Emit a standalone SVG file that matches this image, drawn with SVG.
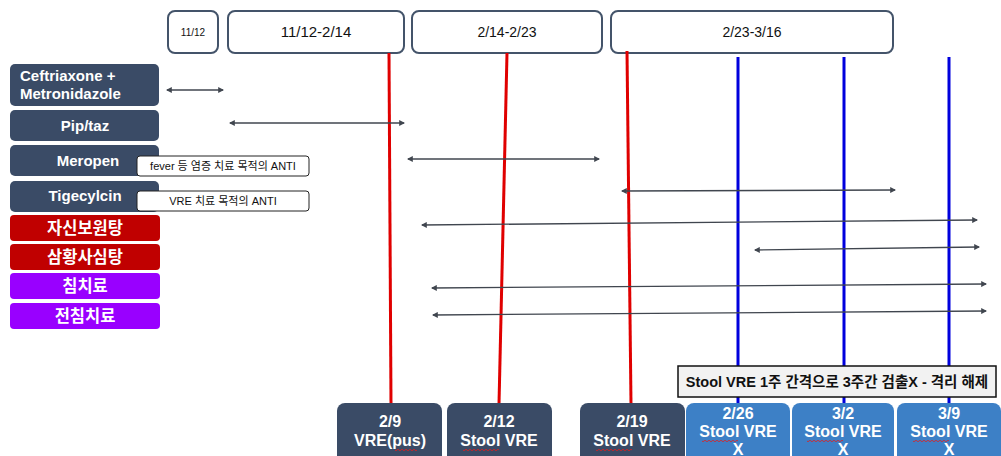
<svg xmlns="http://www.w3.org/2000/svg" width="1001" height="456" viewBox="0 0 1001 456">
<style>
.hdr{fill:#fff;stroke:#44546a;stroke-width:2}
.ht{font-family:"Liberation Sans",Arial,sans-serif;fill:#111;text-anchor:middle}
.drug{fill:#3a4b66}
.red{fill:#c00000}
.pur{fill:#9900ff}
.lt{font-family:"Liberation Sans","Noto Sans CJK KR",sans-serif;font-weight:bold;fill:#fff;font-size:15px;text-anchor:middle}
.kt{font-family:"Noto Sans CJK KR","Liberation Sans",sans-serif;font-weight:bold;fill:#fff;font-size:16.5px;text-anchor:middle}
.note{fill:#fff;stroke:#222;stroke-width:1}
.nt{font-family:"Liberation Sans","Noto Sans CJK KR",sans-serif;font-size:11px;fill:#111;text-anchor:middle}
.arr{stroke:#40464f;stroke-width:1.3;fill:none;marker-start:url(#ah);marker-end:url(#ah)}
.rl{stroke:#e00000;stroke-width:3;fill:none}
.bl{stroke:#0000dd;stroke-width:3;fill:none}
.ev{fill:#3a4b66}
.evb{fill:#3d80c6}
.et{font-family:"Liberation Sans",Arial,sans-serif;font-weight:bold;fill:#fff;font-size:16px;text-anchor:middle}
.sq{stroke:#e02020;stroke-width:0.8;fill:none}
</style>
<defs>
<marker id="ah" viewBox="0 0 10 10" refX="8" refY="5" markerWidth="6" markerHeight="6" orient="auto-start-reverse" markerUnits="userSpaceOnUse">
<path d="M0,0 L10,5 L0,10 z" fill="#40464f"/>
</marker>
</defs>

<g id="header-1112">
<rect class="hdr" x="168" y="11" width="50" height="42" rx="7"/>
<text class="ht" x="193" y="36" font-size="10">11/12</text>
</g>
<g id="header-1112-214">
<rect class="hdr" x="228" y="11" width="176" height="42" rx="7"/>
<text class="ht" x="316" y="37" font-size="15">11/12-2/14</text>
</g>
<g id="header-214-223">
<rect class="hdr" x="412" y="11" width="190" height="42" rx="7"/>
<text class="ht" x="507" y="37" font-size="14">2/14-2/23</text>
</g>
<g id="header-223-316">
<rect class="hdr" x="611" y="11" width="282" height="42" rx="7"/>
<text class="ht" x="752" y="37" font-size="14">2/23-3/16</text>
</g>

<g id="timelines">
<line class="rl" x1="389" y1="53" x2="391" y2="404"/>
<line class="rl" x1="507" y1="53" x2="499" y2="404"/>
<line class="rl" x1="627" y1="51" x2="631" y2="404"/>
<line class="bl" x1="738" y1="57" x2="738" y2="404"/>
<line class="bl" x1="844" y1="57" x2="844" y2="404"/>
<line class="bl" x1="949" y1="57" x2="949" y2="404"/>
</g>

<g id="drug-ceftriaxone">
<rect class="drug" x="10" y="64" width="149" height="42" rx="5"/>
<text class="lt" x="20" y="81" style="text-anchor:start">Ceftriaxone +</text>
<text class="lt" x="20" y="99" style="text-anchor:start">Metronidazole</text>
</g>
<g id="drug-piptaz">
<rect class="drug" x="10" y="110" width="149" height="31" rx="5"/>
<text class="lt" x="85" y="131">Pip/taz</text>
</g>
<g id="drug-meropen">
<rect class="drug" x="10" y="145" width="149" height="31" rx="5"/>
<text class="lt" x="88" y="166">Meropen</text>
</g>
<g id="drug-tigecylcin">
<rect class="drug" x="10" y="181" width="149" height="31" rx="5"/>
<text class="lt" x="85" y="201">Tigecylcin</text>
</g>
<g id="herb-jasin">
<rect class="red" x="10" y="215" width="150" height="26" rx="4"/>
<text class="kt" x="85" y="234">자신보원탕</text>
</g>
<g id="herb-samhwang">
<rect class="red" x="10" y="244" width="150" height="26" rx="4"/>
<text class="kt" x="85" y="263">삼황사심탕</text>
</g>
<g id="acu-chim">
<rect class="pur" x="10" y="273" width="150" height="26" rx="4"/>
<text class="kt" x="85" y="292">침치료</text>
</g>
<g id="acu-jeonchim">
<rect class="pur" x="10" y="303" width="150" height="26" rx="4"/>
<text class="kt" x="85" y="322">전침치료</text>
</g>

<g id="note-fever">
<rect class="note" x="137" y="156" width="172" height="20" rx="3"/>
<text class="nt" x="223" y="170">fever 등 염증 치료 목적의 ANTI</text>
</g>
<g id="note-vre">
<rect class="note" x="137" y="191" width="172" height="20" rx="3"/>
<text class="nt" x="223" y="205">VRE 치료 목적의 ANTI</text>
</g>

<g id="connectors">
<line class="arr" x1="167" y1="90" x2="223" y2="90"/>
<line class="arr" x1="230" y1="123" x2="404" y2="123"/>
<line class="arr" x1="408" y1="159" x2="599" y2="159"/>
<line class="arr" x1="622" y1="191" x2="895" y2="190"/>
<line class="arr" x1="422" y1="225" x2="977" y2="220"/>
<line class="arr" x1="755" y1="250" x2="979" y2="247"/>
<line class="arr" x1="432" y1="288" x2="986" y2="284"/>
<line class="arr" x1="433" y1="315" x2="986" y2="311"/>
</g>

<g id="banner">
<rect x="678" y="366" width="318" height="31" fill="#f2f2f2" stroke="#111" stroke-width="1.5"/>
<text x="837" y="387" font-family="Liberation Sans,'Noto Sans CJK KR',sans-serif" font-weight="bold" font-size="14.5" fill="#111" text-anchor="middle">Stool VRE 1주 간격으로 3주간 검출X - 격리 해제</text>
</g>

<g id="event-29">
<rect class="ev" x="337" y="403" width="105" height="62" rx="8"/>
<text class="et" x="390" y="427">2/9</text>
<text class="et" x="390" y="446">VRE(pus)</text>
<path class="sq" d="M395,450 q1,1.5 2,0 t2,0 t2,0 t2,0 t2,0 t2,0 t2,0 t2,0 t2,0 t2,0 t2,0"/>
</g>
<g id="event-212">
<rect class="ev" x="447" y="403" width="105" height="62" rx="8"/>
<text class="et" x="499" y="427">2/12</text>
<text class="et" x="499" y="446">Stool VRE</text>
<path class="sq" d="M463,450 q1,1.5 2,0 t2,0 t2,0 t2,0 t2,0 t2,0 t2,0 t2,0 t2,0 t2,0 t2,0 t2,0 t2,0 t2,0 t2,0 t2,0 t2,0 t2,0"/>
</g>
<g id="event-219">
<rect class="ev" x="580" y="403" width="105" height="62" rx="8"/>
<text class="et" x="632" y="427">2/19</text>
<text class="et" x="632" y="446">Stool VRE</text>
<path class="sq" d="M596,450 q1,1.5 2,0 t2,0 t2,0 t2,0 t2,0 t2,0 t2,0 t2,0 t2,0 t2,0 t2,0 t2,0 t2,0 t2,0 t2,0 t2,0 t2,0 t2,0"/>
</g>
<g id="event-226">
<rect class="evb" x="686" y="403" width="104" height="62" rx="8"/>
<text class="et" x="738" y="419">2/26</text>
<text class="et" x="738" y="437">Stool VRE</text>
<text class="et" x="738" y="455">X</text>
<path class="sq" d="M702,441 q1,1.5 2,0 t2,0 t2,0 t2,0 t2,0 t2,0 t2,0 t2,0 t2,0 t2,0 t2,0 t2,0 t2,0 t2,0 t2,0 t2,0 t2,0 t2,0"/>
</g>
<g id="event-32">
<rect class="evb" x="792" y="403" width="102" height="62" rx="8"/>
<text class="et" x="843" y="419">3/2</text>
<text class="et" x="843" y="437">Stool VRE</text>
<text class="et" x="843" y="455">X</text>
<path class="sq" d="M807,441 q1,1.5 2,0 t2,0 t2,0 t2,0 t2,0 t2,0 t2,0 t2,0 t2,0 t2,0 t2,0 t2,0 t2,0 t2,0 t2,0 t2,0 t2,0 t2,0"/>
</g>
<g id="event-39">
<rect class="evb" x="897" y="403" width="104" height="62" rx="8"/>
<text class="et" x="949" y="419">3/9</text>
<text class="et" x="949" y="437">Stool VRE</text>
<text class="et" x="949" y="455">X</text>
<path class="sq" d="M913,441 q1,1.5 2,0 t2,0 t2,0 t2,0 t2,0 t2,0 t2,0 t2,0 t2,0 t2,0 t2,0 t2,0 t2,0 t2,0 t2,0 t2,0 t2,0 t2,0"/>
</g>
</svg>
